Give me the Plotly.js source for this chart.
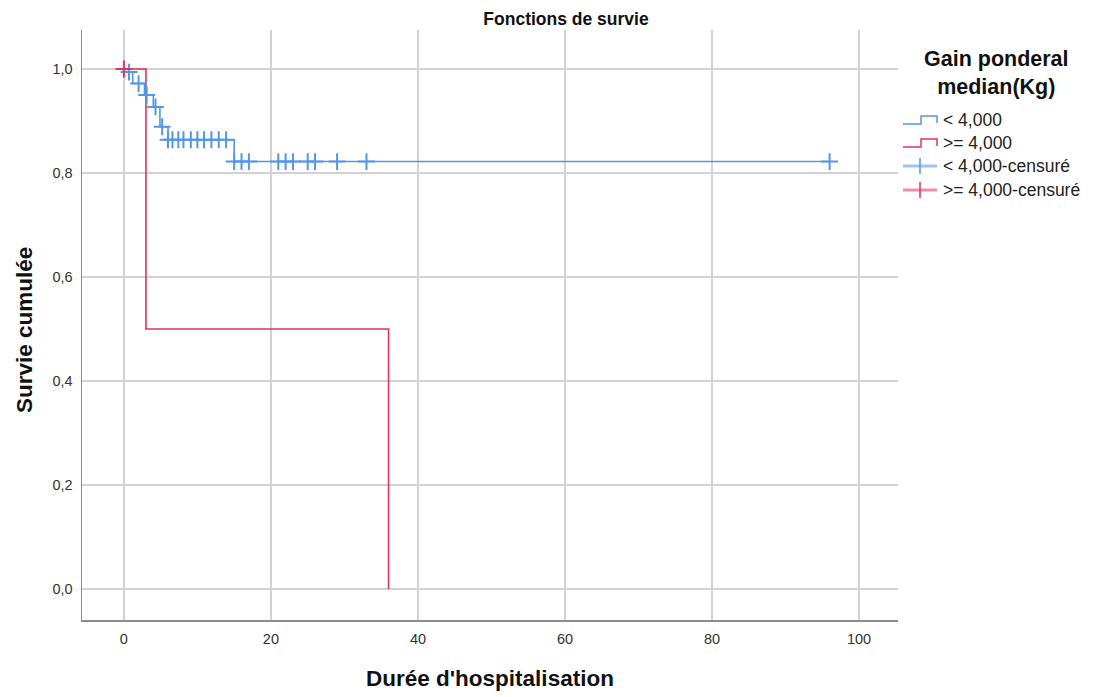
<!DOCTYPE html>
<html><head><meta charset="utf-8">
<script src="https://cdn.plot.ly/plotly-3.0.1.min.js"></script>
<style>html,body{margin:0;padding:0;background:#fff}#chart{width:1094px;height:697px}</style>
</head><body><div id="chart"></div>
<script>
// ---- data ----
const blueStepTimes = [0, 1.2, 2.8, 4.0, 4.9, 6.0, 15.0, 96];
const blueStepSurv  = [0.994, 0.972, 0.950, 0.927, 0.889, 0.864, 0.822, 0.822];
const blueCensTimes = [0.7, 2.0, 3.1, 4.3, 5.2, 6, 6.6, 7.4, 8.1, 9.1, 10, 10.9, 11.9, 12.9, 13.9, 15, 16, 17, 21, 22, 23, 25, 26, 29, 33, 96];
const blueCensSurv  = [0.994, 0.972, 0.950, 0.927, 0.889, 0.864, 0.864, 0.864, 0.864, 0.864, 0.864, 0.864, 0.864, 0.864, 0.864, 0.822, 0.822, 0.822, 0.822, 0.822, 0.822, 0.822, 0.822, 0.822, 0.822, 0.822];
const redStepTimes = [0, 3, 36];
const redStepSurv  = [1.0, 0.5, 0.0];
const redCensTimes = [0];
const redCensSurv  = [1.0];
const legendLabels = ['< 4,000', '>= 4,000', '< 4,000-censuré', '>= 4,000-censuré'];
const xTickVals = [0, 20, 40, 60, 80, 100];
const yTickVals = [0, 0.2, 0.4, 0.6, 0.8, 1.0];

const BLUE = '#5596e6';
const RED = '#e2335e';
const FONT = 'Arial, "Liberation Sans", sans-serif';

const traces = [
  {x: blueStepTimes, y: blueStepSurv, mode: 'lines', line: {shape: 'hv', color: BLUE, width: 1.6}, showlegend: false, hoverinfo: 'skip'},
  {x: redStepTimes, y: redStepSurv, mode: 'lines', line: {shape: 'hv', color: RED, width: 1.6}, showlegend: false, hoverinfo: 'skip'},
  {x: blueCensTimes, y: blueCensSurv, mode: 'markers', marker: {symbol: 'cross-thin', size: 12, color: BLUE, line: {color: BLUE, width: 2}}, showlegend: false},
  {x: redCensTimes, y: redCensSurv, mode: 'markers', marker: {symbol: 'cross-thin', size: 12, color: RED, line: {color: RED, width: 2}}, showlegend: false}
];

// plot area in pixels
const L = 82, R = 898, T = 30, B = 620;
const px = X => (X - L) / (R - L);
const py = Y => (B - Y) / (B - T);

const shapes = [];
const annotations = [];
const itemY = [120, 143, 166, 190];
const colors = [BLUE, RED, BLUE, RED];
for (let i = 0; i < 4; i++) {
  const yc = itemY[i];
  if (i < 2) {
    shapes.push({type: 'path', xref: 'paper', yref: 'paper',
      path: `M ${px(903)} ${py(yc+4)} L ${px(921)} ${py(yc+4)} L ${px(921)} ${py(yc-4)} L ${px(937)} ${py(yc-4)} L ${px(937)} ${py(yc+3)}`,
      line: {color: colors[i], width: 1.5}});
  } else {
    shapes.push({type: 'line', xref: 'paper', yref: 'paper', x0: px(903), x1: px(937), y0: py(yc), y1: py(yc),
      line: {color: colors[i], width: 3}, opacity: 0.55});
    shapes.push({type: 'line', xref: 'paper', yref: 'paper', x0: px(920), x1: px(920), y0: py(yc-8), y1: py(yc+8),
      line: {color: colors[i], width: 1.5}});
  }
  annotations.push({xref: 'paper', yref: 'paper', x: px(941), y: py(yc), xanchor: 'left', yanchor: 'middle',
    text: legendLabels[i], showarrow: false, font: {family: FONT, size: 17.5, color: '#222'}});
}
annotations.push({xref: 'paper', yref: 'paper', x: px(996), y: py(73), xanchor: 'center', yanchor: 'middle',
  text: '<b>Gain ponderal<br>median(Kg)</b>', showarrow: false, font: {family: FONT, size: 21.5, color: '#111'}});
annotations.push({xref: 'paper', yref: 'paper', x: px(490), y: py(678), xanchor: 'center', yanchor: 'middle',
  text: "<b>Durée d'hospitalisation</b>", showarrow: false, font: {family: FONT, size: 22.5, color: '#111'}});
annotations.push({xref: 'paper', yref: 'paper', x: px(24), y: py(330), xanchor: 'center', yanchor: 'middle', textangle: -90,
  text: '<b>Survie cumulée</b>', showarrow: false, font: {family: FONT, size: 22.5, color: '#111'}});

const layout = {
  width: 1094, height: 697,
  margin: {l: L, r: 1094 - R, t: T, b: 697 - B, pad: 0},
  paper_bgcolor: '#fff', plot_bgcolor: '#fff',
  separators: ', ',
  font: {family: FONT, color: '#333'},
  title: {text: '<b>Fonctions de survie</b>', x: 566 / 1094, xanchor: 'center', y: 1 - 19 / 697, yanchor: 'middle',
    font: {family: FONT, size: 17.5, color: '#111'}},
  xaxis: {range: [-5.7, 105.3], tickvals: xTickVals, showgrid: true, gridcolor: '#d2d2d2', gridwidth: 1.5,
    zeroline: false, showline: true, linecolor: '#8c8c8c', linewidth: 1.5, ticks: '', tickfont: {size: 14.5, color: '#333'},
    ticklabelstandoff: 5, fixedrange: true},
  yaxis: {range: [-0.0595, 1.075], tickvals: yTickVals, tickformat: '.1f', showgrid: true, gridcolor: '#d2d2d2', gridwidth: 1.5,
    zeroline: false, showline: true, linecolor: '#8c8c8c', linewidth: 1.5, ticks: '', tickfont: {size: 14.5, color: '#333'},
    ticklabelstandoff: 5, fixedrange: true},
  shapes: shapes,
  annotations: annotations,
  showlegend: false
};

Plotly.newPlot('chart', traces, layout, {displayModeBar: false, staticPlot: true});
</script>
</body></html>
